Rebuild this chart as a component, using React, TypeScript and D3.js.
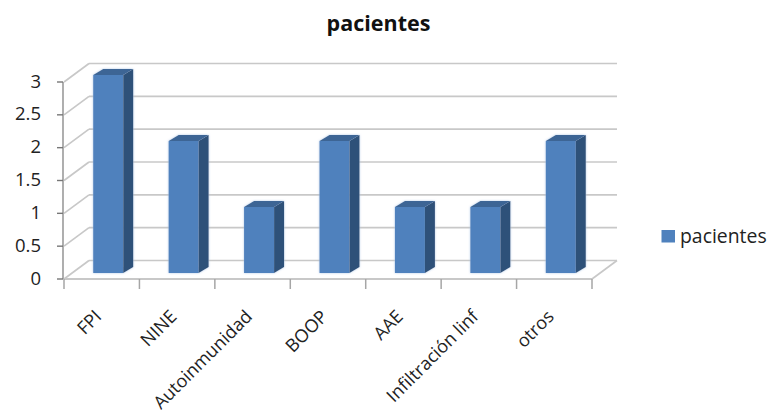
import React from "react";
import * as d3 from "d3";

const categories = ["FPI", "NINE", "Autoinmunidad", "BOOP", "AAE", "Infiltración linf", "otros"];
const pacientes = [3, 2, 1, 2, 1, 1, 2];
const yTicks = [0, 0.5, 1, 1.5, 2, 2.5, 3];
const yTickLabels = ["0", "0.5", "1", "1.5", "2", "2.5", "3"];
const seriesName = "pacientes";

const FONT = "'Open Sans', 'Noto Sans', sans-serif";
const W = 767;
const H = 415;

// Front edge of the 3D plot box and the depth of its walls
const frontLeft = 64;
const frontRight = 592;
const frontBase = 279;
const wallDx = 25;
const wallDy = -18.5;

const x = d3.scaleBand<string>().domain(categories).range([frontLeft, frontRight]);
const y = d3.scaleLinear().domain([0, 3]).range([frontBase, frontBase - 197]);
// Bars stand on the middle of the floor, so their baseline sits a little deeper
const barY = d3.scaleLinear().domain([0, 3]).range([273, 75]);

const barW = 30;
const barShift = 6.5;
const barDx = 10;
const barDy = -6;
const gridColor = "#c8c8c8";
const axisColor = "#a6a6a6";

export default function App() {
  return (
    <svg
      width={W}
      height={H}
      viewBox={`0 0 ${W} ${H}`}
      style={{ position: "absolute", left: 0, top: 0, background: "#fff" }}
    >
      <defs>
        <filter id="bar-edge" x="-20%" y="-20%" width="140%" height="140%">
          <feDropShadow dx="0" dy="0" stdDeviation="0.9" floodColor="#a9c4e4" floodOpacity="0.9" />
        </filter>
      </defs>

      <text x={378.5} y={31} textAnchor="middle" fontFamily={FONT} fontWeight={700} fontSize={21.5} fill="#111">
        {seriesName}
      </text>

      {/* Back wall gridlines and their diagonals along the side wall */}
      {yTicks.map((t) => (
        <g key={t} stroke={gridColor} strokeWidth={1.7} fill="none">
          <line x1={frontLeft + wallDx} x2={frontRight + wallDx} y1={y(t) + wallDy} y2={y(t) + wallDy} />
          <line x1={frontLeft} x2={frontLeft + wallDx} y1={y(t)} y2={y(t) + wallDy} />
        </g>
      ))}
      <line x1={frontRight} x2={frontRight + wallDx} y1={frontBase} y2={frontBase + wallDy} stroke={gridColor} strokeWidth={1.7} />
      <line x1={frontLeft} x2={frontRight} y1={frontBase} y2={frontBase} stroke={gridColor} strokeWidth={2} />

      {/* Value axis */}
      <line x1={frontLeft - 1} x2={frontLeft - 1} y1={y(3)} y2={y(0)} stroke={axisColor} strokeWidth={1.8} />
      {yTicks.map((t, i) => (
        <g key={t}>
          <line x1={frontLeft - 7} x2={frontLeft - 1} y1={y(t)} y2={y(t)} stroke="#777" strokeWidth={1.4} />
          <text x={41} y={y(t) + 5.5} textAnchor="end" fontFamily={FONT} fontSize={18.5} fill="#222">
            {yTickLabels[i]}
          </text>
        </g>
      ))}

      {/* Category axis ticks */}
      {[...categories.map((c) => x(c) as number), frontRight].map((px) => (
        <line key={px} x1={px} x2={px} y1={frontBase} y2={frontBase + 10} stroke={axisColor} strokeWidth={1.5} />
      ))}

      {/* 3D column: front face, side face, top face */}
      {categories.map((c, i) => {
        const left = (x(c) as number) + (x.bandwidth() - barW) / 2 + barShift;
        const right = left + barW;
        const top = barY(pacientes[i]);
        const base = barY(0);
        return (
          <g key={c} filter="url(#bar-edge)">
            <rect x={left} y={top} width={barW} height={base - top} fill="#4f81bd" />
            <polygon
              points={`${right},${top} ${right + barDx},${top + barDy} ${right + barDx},${base + barDy} ${right},${base}`}
              fill="#2f5179"
            />
            <polygon
              points={`${left},${top} ${left + barDx},${top + barDy} ${right + barDx},${top + barDy} ${right},${top}`}
              fill="#3c6595"
            />
          </g>
        );
      })}

      {/* Slanted category labels */}
      {categories.map((c) => {
        const px = (x(c) as number) + x.bandwidth() / 2 - 10;
        return (
          <text
            key={c}
            transform={`translate(${px},${307}) rotate(-45)`}
            textAnchor="end"
            dominantBaseline="hanging"
            fontFamily={FONT}
            fontSize={18}
            fill="#222"
          >
            {c}
          </text>
        );
      })}

      {/* Legend */}
      <rect x={661.5} y={230} width={13.5} height={12.5} fill="#4f81bd" />
      <text x={680} y={243} fontFamily={FONT} fontSize={19.4} fill="#222">
        {seriesName}
      </text>
    </svg>
  );
}
